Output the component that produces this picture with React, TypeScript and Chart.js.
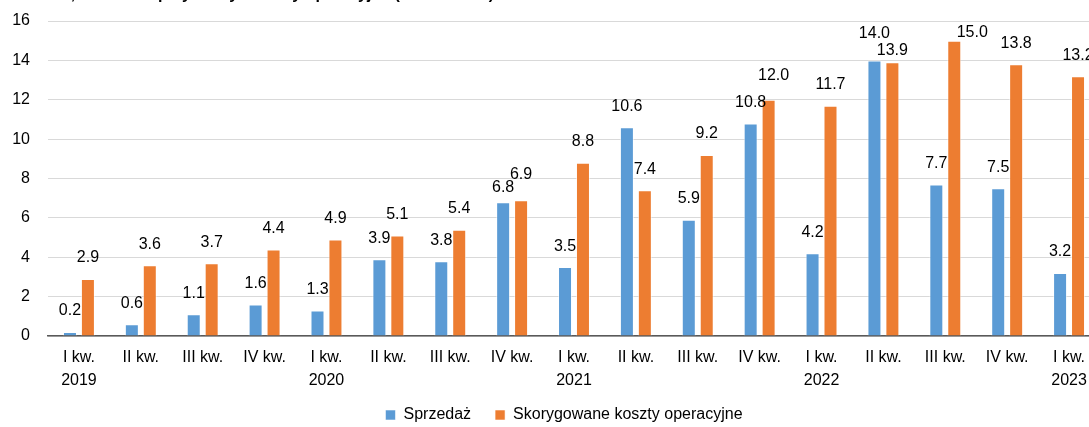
import React, { useEffect, useRef } from "react";
import { Chart, registerables } from "chart.js";

Chart.register(...registerables);

const categories: (string | string[])[] = [
  ["I kw.", "2019"], "II kw.", "III kw.", "IV kw.",
  ["I kw.", "2020"], "II kw.", "III kw.", "IV kw.",
  ["I kw.", "2021"], "II kw.", "III kw.", "IV kw.",
  ["I kw.", "2022"], "II kw.", "III kw.", "IV kw.",
  ["I kw.", "2023"],
];
const salesValues = [0.2, 0.6, 1.1, 1.6, 1.3, 3.9, 3.8, 6.8, 3.5, 10.6, 5.9, 10.8, 4.2, 14.0, 7.7, 7.5, 3.2];
const costValues = [2.9, 3.6, 3.7, 4.4, 4.9, 5.1, 5.4, 6.9, 8.8, 7.4, 9.2, 12.0, 11.7, 13.9, 15.0, 13.8, 13.2];
const seriesNames = ["Sprzedaż", "Skorygowane koszty operacyjne"];
const yMin = 0;
const yMax = 16;
const yStep = 2;
const titleText = "Tabela 2. Dane, kwartalne przychody i koszty operacyjne (mld zł netto)";

const FONT = "'Liberation Sans', Arial, sans-serif";
const BLUE = "#5B9BD5";
const ORANGE = "#ED7D31";

// manual label nudges (dx, dy) as in the source chart, keyed "dataset-index"
const labelNudges: Record<string, [number, number]> = {
  "0-13": [0, -6],
  "1-13": [0, 9],
  "1-14": [18, 13],
  "0-7": [0, 6],
  "1-7": [0, -5],
  "1-11": [5, -3],
};

const valueLabels = {
  id: "valueLabels",
  afterDatasetsDraw(chart: any) {
    const ctx = chart.ctx;
    ctx.save();
    ctx.font = `16px ${FONT}`;
    ctx.fillStyle = "#000";
    ctx.textAlign = "center";
    ctx.textBaseline = "middle";
    chart.data.datasets.forEach((ds: any, di: number) => {
      const meta = chart.getDatasetMeta(di);
      meta.data.forEach((el: any, i: number) => {
        const n = labelNudges[`${di}-${i}`] || [0, 0];
        ctx.fillText(Number(ds.data[i]).toFixed(1), el.x + n[0], el.y - 21 + n[1]);
      });
    });
    ctx.restore();
  },
};

const titlePlugin = {
  id: "cutTitle",
  afterDraw(chart: any) {
    const ctx = chart.ctx;
    ctx.save();
    ctx.font = `bold 16px ${FONT}`;
    ctx.fillStyle = "#000";
    ctx.textAlign = "left";
    ctx.textBaseline = "alphabetic";
    ctx.fillText(titleText, -40, -1);
    ctx.restore();
  },
};

const LEGEND_H = 34;
const LEGEND_TOP = 383;
const legendShift = {
  id: "legendShift",
  beforeLayout(chart: any) {
    const lg = chart.legend;
    if (lg && !lg.__wrapped) {
      const orig = lg.fit.bind(lg);
      lg.fit = function () {
        orig();
        this.height = LEGEND_H;
      };
      lg.__wrapped = true;
    }
  },
  afterLayout(chart: any) {
    const lg = chart.legend;
    if (lg) {
      lg.left += 14;
      lg.right += 14;
      lg.top = LEGEND_TOP;
      lg.bottom = chart.height;
      lg.height = chart.height - LEGEND_TOP;
    }
  },
};

export default function App() {
  const ref = useRef<HTMLCanvasElement | null>(null);
  useEffect(() => {
    if (!ref.current) return;
    const chart = new Chart(ref.current, {
      type: "bar",
      data: {
        labels: categories as any,
        datasets: [
          {
            label: seriesNames[0],
            data: salesValues,
            backgroundColor: BLUE,
            borderColor: "rgba(255,255,255,0.55)",
            borderWidth: 1,
            categoryPercentage: 0.58,
            barPercentage: 0.78,
          },
          {
            label: seriesNames[1],
            data: costValues,
            backgroundColor: ORANGE,
            borderColor: "rgba(255,255,255,0.55)",
            borderWidth: 1,
            categoryPercentage: 0.58,
            barPercentage: 0.78,
          },
        ],
      },
      options: {
        responsive: false,
        animation: false,
        layout: { padding: { top: 21, left: 0, right: 32, bottom: 0 } },
        plugins: {
          title: { display: false },
          tooltip: { enabled: false },
          legend: {
            display: true,
            position: "bottom",
            labels: {
              font: { family: FONT, size: 16 },
              color: "#000",
              boxWidth: 10,
              boxHeight: 10,
              padding: 24,
            },
          },
        },
        scales: {
          x: {
            grid: { display: false, drawTicks: false },
            border: { display: true, color: "#595959", width: 1.5 },
            ticks: {
              font: { family: FONT, size: 16, lineHeight: 1.45 },
              color: "#000",
              padding: 10,
              maxRotation: 0,
              autoSkip: false,
            },
            afterFit(scale: any) {
              scale.height = 57;
            },
          },
          y: {
            min: yMin,
            max: yMax,
            grid: { color: "#D9D9D9", lineWidth: 1, drawTicks: false },
            border: { display: false },
            ticks: {
              stepSize: yStep,
              font: { family: FONT, size: 16 },
              color: "#000",
              padding: 18,
            },
            afterFit(scale: any) {
              scale.width = 48;
              scale.paddingTop = 10;
              scale.paddingBottom = 10;
            },
          },
        },
      },
      plugins: [valueLabels, titlePlugin, legendShift],
    });
    return () => chart.destroy();
  }, []);

  return (
    <div
      style={{
        position: "fixed",
        left: 0,
        top: 0,
        width: 1089,
        height: 427,
        overflow: "hidden",
        background: "#fff",
      }}
    >
      <canvas ref={ref} width={1132} height={427} style={{ width: 1132, height: 427, display: "block" }} />
    </div>
  );
}
